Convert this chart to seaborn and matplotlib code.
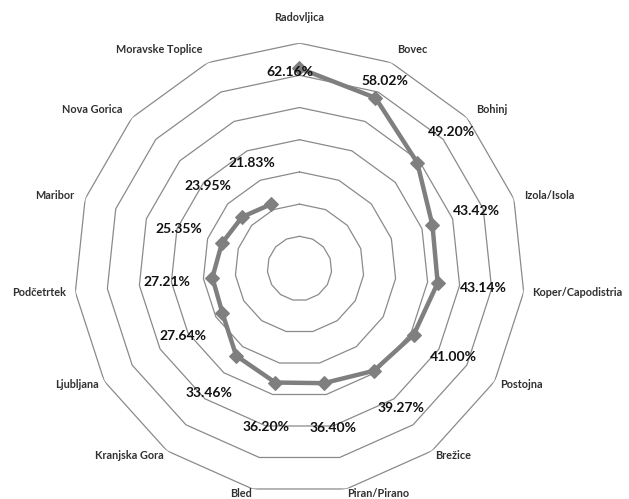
import numpy as np
import pandas as pd
import seaborn as sns
import matplotlib.pyplot as plt

# Data
towns = ['Radovljica', 'Bovec', 'Bohinj', 'Izola/Isola', 'Koper/Capodistria',
         'Postojna', 'Brežice', 'Piran/Pirano', 'Bled', 'Kranjska Gora',
         'Ljubljana', 'Podčetrtek', 'Maribor', 'Nova Gorica', 'Moravske Toplice']
shares = [62.16, 58.02, 49.20, 43.42, 43.14, 41.00, 39.27, 36.40, 36.20, 33.46,
          27.64, 27.21, 25.35, 23.95, 21.83]
rings = [10, 20, 30, 40, 50, 60, 70]

# label placement (radial shift and small turn for the crowded top two)
value_label_shift = [-1.1, 6.0] + [14.2] * 13
value_label_turn = [-2.8, 0.5] + [0] * 13

sns.set_theme(style='white')
plt.rcParams['font.family'] = ['Lato', 'DejaVu Sans']

n = len(towns)
angles = np.arange(n) * 2 * np.pi / n
df = pd.DataFrame({'theta': np.append(angles, angles[0]),
                   'share': shares + shares[:1]})

fig = plt.figure(figsize=(6.29, 4.99), dpi=100)
ax = fig.add_axes([0.1178, 0.0102, 0.7167, 0.9034], projection='polar')
ax.set_theta_zero_location('N')
ax.set_theta_direction(-1)

# polygon gridlines
closed = np.append(angles, angles[0])
for r in rings:
    ax.plot(closed, [r] * len(closed), color='#8a8a8a', lw=0.9, zorder=1)

sns.lineplot(data=df, x='theta', y='share', sort=False, ax=ax,
             color='#7f7f7f', lw=3.2, marker='D', markersize=7,
             markeredgecolor='#7f7f7f', zorder=3)

ax.set_ylim(0, 70)
ax.grid(False)
ax.set_xticks([])
ax.set_yticks([])
ax.set_xlabel('')
ax.set_ylabel('')
ax.spines['polar'].set_visible(False)

for ang, v, s, t in zip(angles, shares, value_label_shift, value_label_turn):
    ax.text(ang + np.deg2rad(t), v + s, f'{v:.2f}%', ha='center', va='center',
            fontsize=10, fontweight='bold', color='#111111', zorder=4)

for i, (name, ang) in enumerate(zip(towns, angles)):
    if i == 0:
        ha, rad = 'center', 78.1
    else:
        ha = 'left' if np.sin(ang) > 0 else 'right'
        rad = 72.9 + 1.6 * np.cos(ang)
    ax.text(ang, rad, name, ha=ha, va='center',
            fontsize=7.8, fontweight='bold', color='#303030', clip_on=False)

plt.savefig('out.png', dpi=100)
